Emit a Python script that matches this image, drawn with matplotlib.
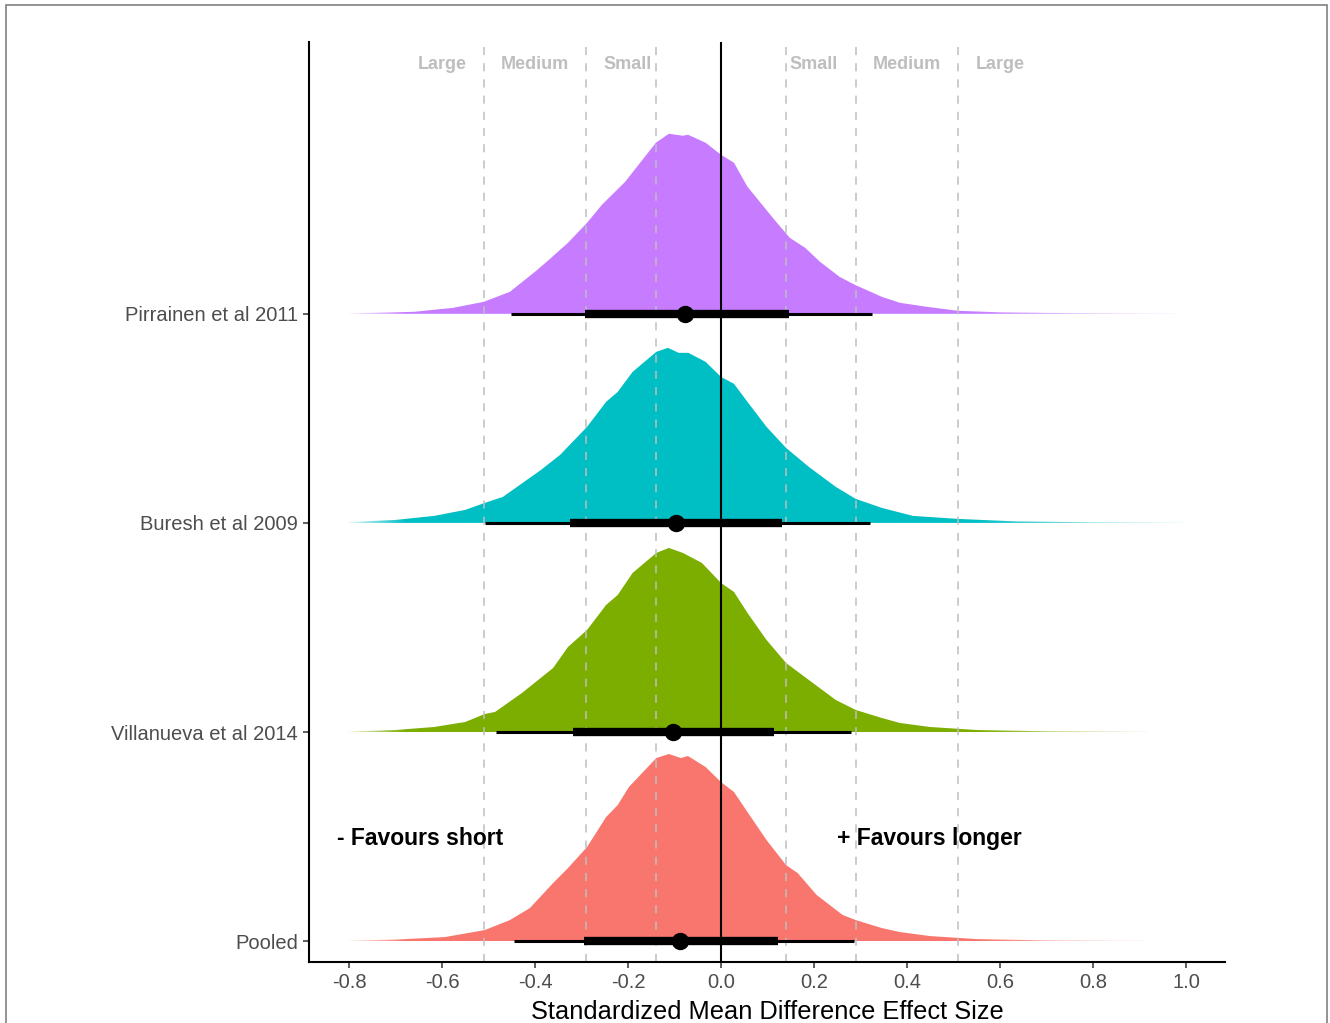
import numpy as np
import matplotlib
matplotlib.use("Agg")
import matplotlib.pyplot as plt
from matplotlib.patches import Rectangle
from matplotlib.colors import to_rgb

plt.rcParams['font.family'] = ['Liberation Sans', 'DejaVu Sans']

# ---- data ----
studies = ["Pooled", "Villanueva et al 2014", "Buresh et al 2009", "Pirrainen et al 2011"]
colors = ["#F8766D", "#7CAE00", "#00BFC4", "#C77CFF"]

# slab outlines: x positions and heights (in pixels of a 209-px row)
pooled_x = [-0.80, -0.70, -0.594, -0.508, -0.454, -0.411, -0.361, -0.329, -0.288, -0.247, -0.222, -0.198,
            -0.139, -0.112, -0.086, -0.071, -0.033, 0.0, 0.028, 0.057, 0.098, 0.14, 0.165, 0.206,
            0.262, 0.29, 0.346, 0.385, 0.45, 0.55, 0.70, 0.92]
pooled_h = [0.5, 1.5, 4, 11, 21, 33, 58, 73, 94, 124, 136, 154, 183, 187, 183, 185, 174, 159, 149, 129,
            101, 76, 68, 46, 26, 21, 13, 9, 5, 2, 0.7, 0.3]

villanueva_x = [-0.80, -0.70, -0.617, -0.55, -0.508, -0.486, -0.428, -0.361, -0.329, -0.288, -0.247, -0.222,
                -0.19, -0.139, -0.112, -0.082, -0.041, 0.0, 0.028, 0.057, 0.098, 0.14, 0.189, 0.247, 0.29,
                0.346, 0.385, 0.45, 0.55, 0.70, 0.92]
villanueva_h = [0.5, 2, 5, 10, 18, 20, 39, 64, 85, 102, 127, 137, 159, 179, 184, 179, 169, 149, 140, 119, 92,
                69, 52, 32, 22, 14, 9, 5, 2, 0.7, 0.3]

buresh_x = [-0.80, -0.70, -0.617, -0.55, -0.508, -0.469, -0.387, -0.346, -0.288, -0.247, -0.222, -0.19,
            -0.139, -0.114, -0.091, -0.07, -0.033, 0.0, 0.028, 0.057, 0.098, 0.14, 0.189, 0.247, 0.29,
            0.346, 0.413, 0.51, 0.636, 0.80, 1.0]
buresh_h = [0.8, 3, 7, 13, 20, 26, 53, 68, 96, 121, 131, 151, 171, 175, 170, 170, 161, 146, 139, 121, 96,
            75, 56, 36, 24, 15, 7, 4, 1.5, 0.6, 0.3]

pirrainen_x = [-0.80, -0.66, -0.576, -0.51, -0.454, -0.40, -0.37, -0.329, -0.288, -0.256, -0.206,
               -0.14, -0.112, -0.082, -0.071, -0.033, 0.0, 0.028, 0.057, 0.115, 0.148, 0.181, 0.213,
               0.255, 0.288, 0.346, 0.385, 0.443, 0.51, 0.60, 0.75, 0.976]
pirrainen_h = [0.5, 2, 6, 12, 22, 42, 54, 71, 91, 109, 132, 171, 180, 178, 179, 171, 159, 151, 127, 94,
               76, 66, 52, 37, 29, 17, 11, 7, 3, 1.5, 0.7, 0.3]

slab_x = [pooled_x, villanueva_x, buresh_x, pirrainen_x]
slab_h = [pooled_h, villanueva_h, buresh_h, pirrainen_h]
row_px = 209.0

# point estimates and intervals (66% thick, 95% thin)
point_est = [-0.089, -0.103, -0.097, -0.077]
thin_lo = [-0.445, -0.484, -0.508, -0.452]
thin_hi = [0.286, 0.280, 0.320, 0.325]
thick_lo = [-0.294, -0.318, -0.325, -0.292]
thick_hi = [0.122, 0.114, 0.131, 0.146]

effect_lines = [-0.51, -0.29, -0.14, 0.14, 0.29, 0.51]
effect_labels = ["Large", "Medium", "Small", "Small", "Medium", "Large"]
effect_label_x = [-0.6, -0.4, -0.2, 0.2, 0.4, 0.6]

xticks = [-0.8, -0.6, -0.4, -0.2, 0.0, 0.2, 0.4, 0.6, 0.8, 1.0]

# ---- figure ----
W, H = 1330, 1023
fig = plt.figure(figsize=(W / 100, H / 100), dpi=100)
ax = fig.add_axes([309 / W, 1 - 962 / H, (1225 - 309) / W, (962 - 42) / H])

fig.patches.append(Rectangle((6 / W, -0.05), (1327 - 6) / W, (1023 - 5) / H + 0.05,
                             transform=fig.transFigure, fill=False, edgecolor="#808080",
                             linewidth=1.2, zorder=0))

ys = np.arange(1, len(studies) + 1)
for i, y in enumerate(ys):
    x = np.array(slab_x[i])
    h = np.array(slab_h[i]) / row_px
    poly = ax.fill_between(x, y, y + h, facecolor="none", edgecolor="none", linewidth=0, zorder=1)
    # colour image with faded tails, clipped to the slab outline
    xs = np.linspace(x[0], x[-1], 600)
    left_fade = np.clip((xs - x[0]) / 0.12, 0, 1)
    right_fade = np.clip((x[-1] - xs) / (x[-1] - 0.55), 0, 1)
    alpha = 0.15 + 0.85 * np.minimum(left_fade, right_fade)
    img = np.zeros((2, xs.size, 4))
    img[..., :3] = to_rgb(colors[i])
    img[..., 3] = alpha[None, :]
    im = ax.imshow(img, extent=(x[0], x[-1], y, y + h.max() + 0.01), origin="lower",
                   aspect="auto", interpolation="bilinear", zorder=1)
    im.set_clip_path(poly.get_paths()[0], poly.get_transform())

for xv in effect_lines:
    ax.axvline(xv, color="#BEBEBE", lw=1.1, ls=(0, (5.3, 5.3)), zorder=2)
ax.axvline(0, color="black", lw=1.5, zorder=3)

for i, y in enumerate(ys):
    ax.plot([thin_lo[i], thin_hi[i]], [y, y], color="black", lw=2.2, solid_capstyle="butt", zorder=4)
    ax.plot([thick_lo[i], thick_hi[i]], [y, y], color="black", lw=6.0, solid_capstyle="butt", zorder=5)
    ax.plot(point_est[i], y, "o", color="black", ms=11.5, zorder=6)

for lx, lab in zip(effect_label_x, effect_labels):
    ax.text(lx, 5.19, lab, color="#BEBEBE", fontsize=13, fontweight="bold", ha="center", va="center")

ax.text(-0.646, 1.49, "- Favours short", fontsize=16.5, fontweight="bold", ha="center", va="center")
ax.text(0.448, 1.49, "+ Favours longer", fontsize=16.5, fontweight="bold", ha="center", va="center")

ax.set_xlim(-0.886, 1.084)
ax.set_ylim(0.9, 5.3)
ax.set_xticks(xticks)
ax.set_xticklabels([f"{v:.1f}" for v in xticks])
ax.set_yticks(ys)
ax.set_yticklabels(studies)
ax.tick_params(axis="both", labelsize=14.5, labelcolor="#4D4D4D", color="#333333",
               length=4, width=1.1, pad=4)
ax.set_xlabel("Standardized Mean Difference Effect Size", fontsize=18.3, labelpad=6)

for s in ["top", "right"]:
    ax.spines[s].set_visible(False)
for s in ["left", "bottom"]:
    ax.spines[s].set_linewidth(1.5)
    ax.spines[s].set_color("black")

fig.savefig("out.png", dpi=100)
